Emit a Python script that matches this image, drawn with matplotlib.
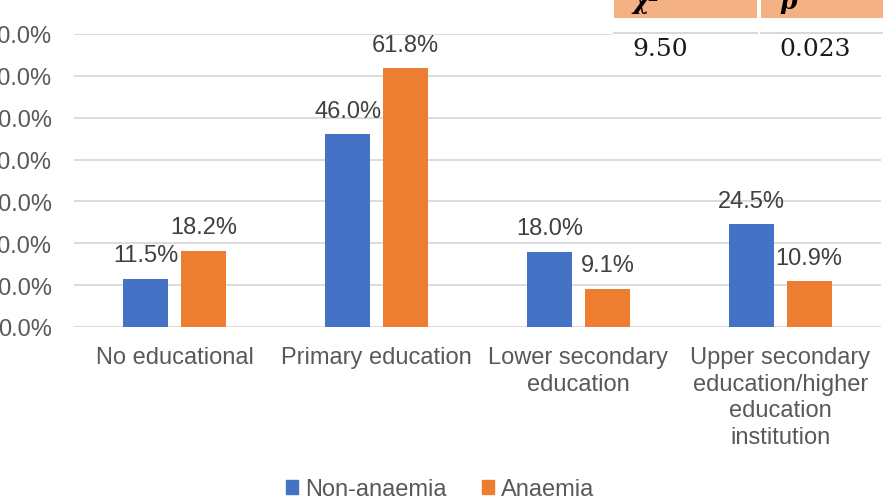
import numpy as np
import matplotlib.pyplot as plt
from matplotlib.patches import Patch, Rectangle
from matplotlib.ticker import FuncFormatter

plt.rcParams['font.family'] = ['Liberation Sans', 'DejaVu Sans']

# data
categories = ['No educational', 'Primary education', 'Lower secondary\neducation',
              'Upper secondary\neducation/higher\neducation\ninstitution']
non_anaemia = [11.5, 46.0, 18.0, 24.5]
anaemia = [18.2, 61.8, 9.1, 10.9]
series_names = ['Non-anaemia', 'Anaemia']
y_ticks = [0, 10, 20, 30, 40, 50, 60, 70]
table_head = ['χ²', 'p']
table_row = ['9.50', '0.023']

blue = '#4472C4'
orange = '#ED7D31'
grid_col = '#D9D9D9'
tick_col = '#595959'
label_col = '#404040'
fs = 17

W, H = 883, 502
fig = plt.figure(figsize=(W / 100, H / 100), dpi=100)


def fx(px):
    return px / W


def fy(py):
    # pixel from top -> figure fraction
    return 1 - py / H


ax = fig.add_axes([fx(74), fy(328), fx(807), (328 - 35) / H])

x = np.arange(len(categories))
bw = 0.223
off = 0.1437
b1 = ax.bar(x - off, non_anaemia, bw, color=blue, zorder=3)
b2 = ax.bar(x + off, anaemia, bw, color=orange, zorder=3)

for bars, vals in [(b1, non_anaemia), (b2, anaemia)]:
    for rect, v in zip(bars, vals):
        ax.annotate('{:.1f}%'.format(v), (rect.get_x() + rect.get_width() / 2, v),
                    xytext=(0, 17), textcoords='offset points', ha='center', va='center',
                    fontsize=fs, color=label_col, annotation_clip=False)

ax.set_xlim(-0.5, len(categories) - 0.5)
ax.set_ylim(0, 70)
ax.set_yticks(y_ticks)
ax.yaxis.set_major_formatter(FuncFormatter(lambda v, p: '{:.1f}%'.format(v)))
ax.set_xticks(x)
ax.set_xticklabels(categories, fontsize=fs, color=tick_col, linespacing=1.26)
ax.tick_params(axis='y', length=0, pad=16, labelsize=fs, labelcolor=tick_col)
ax.tick_params(axis='x', length=0, pad=14)
ax.grid(axis='y', color=grid_col, linewidth=1.3, zorder=0)
for s in ax.spines.values():
    s.set_visible(False)

# legend
handles = [Patch(color=blue), Patch(color=orange)]
fig.legend(handles, series_names, loc='center', bbox_to_anchor=(fx(440), fy(490)),
           ncol=2, frameon=False, fontsize=fs, labelcolor=tick_col,
           handlelength=0.52, handleheight=0.52, handletextpad=0.28, columnspacing=1.5)

# chi-square table in the top right corner
fig.patches.append(Rectangle((fx(612), fy(76)), fx(W - 612), 76 / H, transform=fig.transFigure,
                             facecolor='white', edgecolor='none', zorder=5))
cells = [(614, 757), (761, 884)]
for (c0, c1), head, val in zip(cells, table_head, table_row):
    fig.patches.append(Rectangle((fx(c0), fy(19)), fx(c1 - c0), 19 / H, transform=fig.transFigure,
                                 facecolor='#F4B183', edgecolor='none', zorder=6))
    fig.lines.append(plt.Line2D([fx(c0), fx(c1)], [fy(33.5), fy(33.5)], transform=fig.transFigure,
                                color=grid_col, linewidth=1.5, zorder=6))
    fig.text(fx(c0 + 18), fy(9.5), head, family='DejaVu Serif', fontweight='bold',
             fontstyle='italic', fontsize=18, va='baseline', ha='left', zorder=7)
    fig.text(fx(c0 + 18), fy(49), val, family='DejaVu Serif', fontsize=18,
             color='#1a1a1a', va='center', ha='left', zorder=7)

fig.savefig('out.png', dpi=100)
